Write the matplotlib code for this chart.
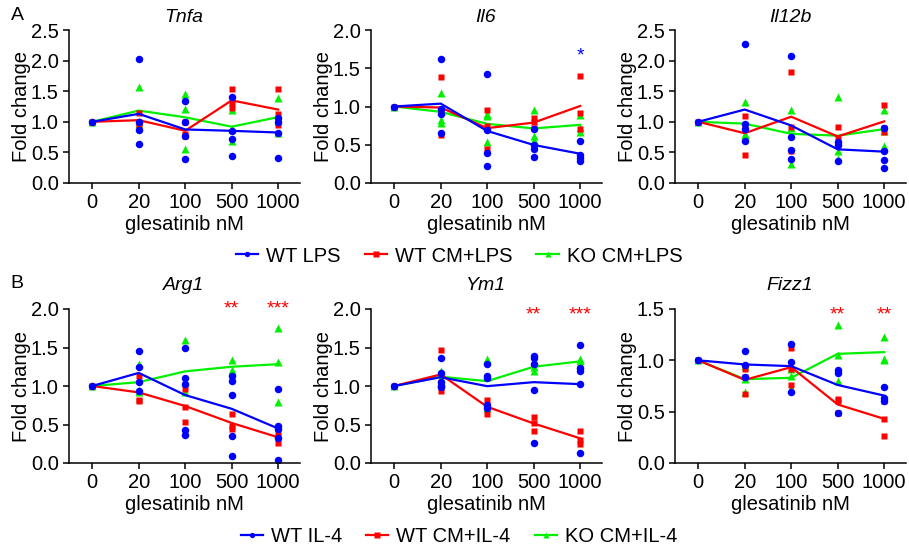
import numpy as np
import matplotlib
matplotlib.use('Agg')
import matplotlib.pyplot as plt
from matplotlib.lines import Line2D

plt.rcParams['font.family'] = ['Liberation Sans', 'DejaVu Sans']

W, H = 909, 550

doses = ['0', '20', '100', '500', '1000']

# top row (LPS)
tnfa_wt = [[1.0], [2.02, 1.0, 0.86, 0.64], [1.34, 1.0, 0.76, 0.4], [1.40, 0.85, 0.72, 0.44], [1.07, 1.0, 0.82, 0.41]]
tnfa_wt_cm = [[1.0], [1.15, 1.0, 0.93], [1.0, 0.8, 0.76], [1.53, 1.3, 1.22], [1.53, 1.12, 0.95]]
tnfa_ko_cm = [[1.0], [1.57, 1.02, 0.96], [1.45, 1.21, 0.56], [1.2, 0.88, 0.68], [1.39, 1.02, 0.82]]

il6_wt = [[1.0], [1.62, 0.97, 0.9, 0.66], [1.42, 0.69, 0.39, 0.22], [0.71, 0.5, 0.44, 0.34], [0.55, 0.36, 0.29, 0.33]]
il6_wt_cm = [[1.0], [1.38, 0.95, 0.63], [0.95, 0.75, 0.45], [0.85, 0.8, 0.72], [1.4, 0.92, 0.7]]
il6_ko_cm = [[1.0], [1.18, 0.82, 0.79], [0.88, 0.9, 0.54], [0.96, 0.62, 0.56], [0.89, 0.72, 0.67]]

il12b_wt = [[1.0], [2.27, 0.96, 0.88, 0.69], [2.08, 0.75, 0.54, 0.39], [0.67, 0.62, 0.36], [0.9, 0.53, 0.38, 0.24]]
il12b_wt_cm = [[1.0], [1.1, 0.88, 0.46], [1.81, 0.92, 0.52], [0.92, 0.72, 0.64], [1.28, 0.9, 0.84]]
il12b_ko_cm = [[1.0], [1.33, 0.8, 0.78], [1.2, 0.9, 0.31], [1.4, 0.52, 0.4], [1.19, 0.85, 0.6]]

# bottom row (IL-4)
arg1_wt = [[1.0], [1.45, 1.25, 1.05, 0.93], [1.49, 1.1, 1.02, 0.43, 0.37], [1.13, 1.07, 0.88, 0.35, 0.09], [0.96, 0.48, 0.44, 0.32, 0.04]]
arg1_wt_cm = [[1.0], [1.13, 0.82, 0.8], [0.96, 0.73, 0.53], [0.64, 0.48, 0.44], [0.4, 0.34, 0.26]]
arg1_ko_cm = [[1.0], [1.28, 0.95, 0.92], [1.6, 1.05, 0.92], [1.34, 1.2, 1.21], [1.75, 1.31, 0.79]]

ym1_wt = [[1.0], [1.36, 1.17, 1.05, 1.0, 0.99], [1.29, 1.13, 1.1, 0.75, 0.72], [1.39, 1.36, 1.29, 0.95, 0.26], [1.53, 1.24, 1.19, 1.03, 0.13]]
ym1_wt_cm = [[1.0], [1.47, 1.04, 0.94], [0.82, 0.73, 0.64], [0.6, 0.52, 0.42], [0.41, 0.3, 0.25]]
ym1_ko_cm = [[1.0], [1.2, 1.1, 1.06], [1.35, 1.12, 0.72], [1.3, 1.25, 1.2], [1.35, 1.32, 1.29]]

fizz1_wt = [[1.0], [1.09, 0.95, 0.84], [1.16, 0.98, 0.69], [0.91, 0.88, 0.49], [0.74, 0.63, 0.6]]
fizz1_wt_cm = [[1.0], [0.92, 0.84, 0.67], [1.12, 0.92, 0.76], [0.62, 0.6, 0.49], [0.6, 0.43, 0.26]]
fizz1_ko_cm = [[1.0], [0.94, 0.82, 0.69], [0.92, 0.85, 0.72], [1.34, 1.05, 0.8], [1.23, 1.0, 1.01]]

lps_labels = ['WT LPS', 'WT CM+LPS', 'KO CM+LPS']
il4_labels = ['WT IL-4', 'WT CM+IL-4', 'KO CM+IL-4']

BLUE = '#0000ff'
RED = '#ff0000'
GREEN = '#00f000'

# (title, series, ymax, stars as (dose index, y, text, color))
panels = [
    ('Tnfa', (tnfa_wt, tnfa_wt_cm, tnfa_ko_cm), 2.5, []),
    ('Il6', (il6_wt, il6_wt_cm, il6_ko_cm), 2.0, [(4, 1.66, '*', BLUE)]),
    ('Il12b', (il12b_wt, il12b_wt_cm, il12b_ko_cm), 2.5, []),
    ('Arg1', (arg1_wt, arg1_wt_cm, arg1_ko_cm), 2.0, [(3, 2.0, '**', RED), (4, 2.0, '***', RED)]),
    ('Ym1', (ym1_wt, ym1_wt_cm, ym1_ko_cm), 2.0, [(3, 1.92, '**', RED), (4, 1.92, '***', RED)]),
    ('Fizz1', (fizz1_wt, fizz1_wt_cm, fizz1_ko_cm), 1.5, [(3, 1.44, '**', RED), (4, 1.44, '**', RED)]),
]

lefts = [69, 371, 675]
rows = [(30, 183, 18), (309, 463, 286)]   # axes top, axes bottom, title centre (px)
styles = [(BLUE, 'o', 5.4), (RED, 's', 4.8), (GREEN, '^', 5.2)]

fig = plt.figure(figsize=(W / 100, H / 100), dpi=100)

for k, (title, series, ymax, stars) in enumerate(panels):
    top, bot, ttl = rows[k // 3]
    left = lefts[k % 3]
    ax = fig.add_axes([left / W, 1 - bot / H, 231 / W, (bot - top) / H])
    x = np.arange(len(doses))
    # green first, blue last (on top)
    for (color, mk, ms), groups in reversed(list(zip(styles, series))):
        for i, vals in enumerate(groups):
            ax.plot([i] * len(vals), vals, linestyle='none', marker=mk,
                    ms=ms, color=color, mec='none')
        ax.plot(x, [np.mean(v) for v in groups], color=color, lw=1.6)
    for i, y, txt, color in stars:
        ax.text(i, y, txt, color=color, ha='center', va='center',
                fontsize=14, clip_on=False)
    yt = np.arange(0, ymax + 0.01, 0.5)
    ax.set_xlim(-0.5, 4.47)
    ax.set_ylim(0, ymax)
    ax.set_yticks(yt)
    ax.set_yticklabels(['%.1f' % t for t in yt])
    ax.set_xticks(x)
    ax.set_xticklabels(doses)
    for s in ['top', 'right']:
        ax.spines[s].set_visible(False)
    for s in ['left', 'bottom']:
        ax.spines[s].set_linewidth(1.1)
    ax.tick_params(labelsize=14.5, width=1.1, length=4.3, pad=3)
    ax.set_ylabel('Fold change', fontsize=14.5, labelpad=0)
    ax.set_xlabel('glesatinib nM', fontsize=14.5, labelpad=2)
    fig.text((left + 115) / W, 1 - ttl / H, title, style='italic',
             fontsize=14, ha='center', va='center')

fig.text(17 / W, 1 - 16 / H, 'A', fontsize=14, ha='center', va='center')
fig.text(17 / W, 1 - 284 / H, 'B', fontsize=14, ha='center', va='center')

for labels, ycen in [(lps_labels, 256), (il4_labels, 537)]:
    handles = [Line2D([], [], color=c, marker=m, ms=3.8, lw=1.6, mec='none')
               for c, m, _ in styles]
    fig.legend(handles, labels, loc='center', bbox_to_anchor=(459 / W, 1 - ycen / H),
               ncol=3, frameon=False, fontsize=14.5, handlelength=1.1,
               handletextpad=0.4, columnspacing=1.2, borderpad=0, borderaxespad=0)

fig.savefig('out.png', dpi=100)
